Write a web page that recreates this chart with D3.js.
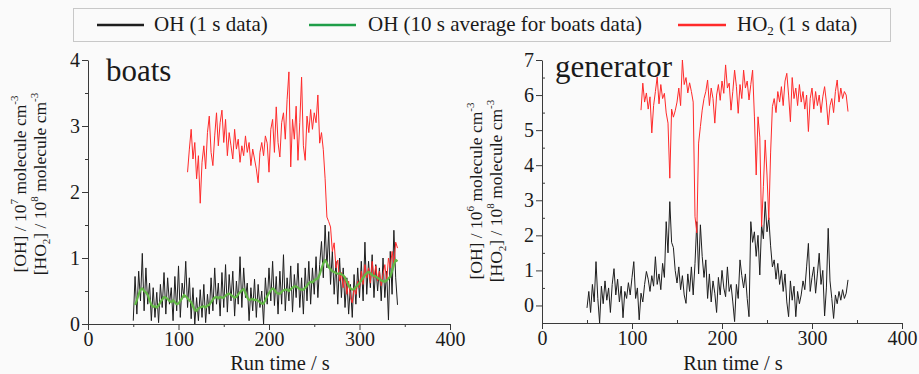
<!DOCTYPE html>
<html><head><meta charset="utf-8">
<script src="https://cdn.jsdelivr.net/npm/d3@7"></script>
<style>
body{margin:0;background:#fafafa;}
svg{display:block;font-family:"Liberation Serif","Times New Roman",serif;}
svg text{font-family:"Liberation Serif","Times New Roman",serif;}
</style></head><body>
<svg id="chart" width="919" height="374"></svg>
<script>
// ---------- data (time step 2 s) ----------
const timeStep = 2;
const xTicks = [0, 100, 200, 300, 400];
const xMinorTicks = [50, 150, 250, 350];
const boatsYTicks = [0, 1, 2, 3, 4];
const genYTicks = [0, 1, 2, 3, 4, 5, 6, 7];
const legendLabels = ["OH (1 s data)", "OH (10 s average for boats data)", "HO2 (1 s data)"];
const panelTitles = ["boats", "generator"];

const boatsOHStart = 50;
const boatsOH = [0.05,0.72,0.15,0.80,0.35,1.07,0.20,0.85,0.30,0.62,0.05,0.55,0.10,0.48,0.02,0.60,0.25,0.78,0.15,0.70,
0.30,0.55,0.05,0.72,0.20,0.88,0.10,0.62,0.40,0.95,0.25,0.70,0.08,0.55,0.00,0.40,0.05,0.52,0.10,0.60,
0.02,0.45,0.15,0.70,0.20,0.85,0.30,0.62,0.12,0.78,0.25,0.90,0.18,0.75,0.35,0.80,0.12,0.65,0.30,1.02,
0.25,0.85,0.40,0.62,0.05,0.55,0.20,0.68,0.10,0.60,0.25,0.50,0.00,0.70,0.30,0.85,0.35,0.95,0.28,0.72,
0.15,0.80,0.30,1.05,0.20,0.70,0.35,0.88,0.18,0.75,0.40,0.92,0.25,0.70,0.15,0.85,0.35,0.95,0.30,0.85,
0.45,1.02,0.40,0.90,1.25,0.70,1.50,0.85,1.40,0.60,1.10,0.45,0.95,0.30,1.00,0.40,0.85,0.25,0.70,0.15,
0.60,0.10,0.75,0.30,0.85,0.40,0.95,0.35,1.24,0.45,0.95,0.55,1.05,0.40,0.90,0.50,0.85,0.35,1.00,0.40,
0.80,0.06,1.10,0.45,1.42,0.70,0.29];

const boatsOHAvgStart = 52;
const boatsOHAvg = [0.29,0.36,0.45,0.52,0.54,0.50,0.48,0.44,0.36,0.29,0.26,0.27,0.25,0.28,0.33,0.37,0.41,0.40,0.38,0.35,
0.33,0.36,0.33,0.30,0.31,0.35,0.39,0.44,0.42,0.39,0.36,0.33,0.27,0.21,0.20,0.24,0.25,0.26,0.27,0.25,
0.28,0.29,0.33,0.37,0.40,0.41,0.39,0.41,0.40,0.40,0.43,0.45,0.46,0.44,0.42,0.40,0.41,0.45,0.48,0.51,
0.53,0.47,0.40,0.36,0.37,0.38,0.36,0.37,0.35,0.33,0.31,0.31,0.36,0.42,0.47,0.51,0.54,0.52,0.48,0.46,
0.46,0.49,0.51,0.52,0.52,0.50,0.53,0.55,0.57,0.57,0.55,0.53,0.52,0.52,0.55,0.58,0.62,0.64,0.63,0.66,
0.68,0.69,0.75,0.84,0.92,0.97,0.92,0.86,0.83,0.80,0.79,0.77,0.76,0.77,0.75,0.74,0.70,0.64,0.58,0.54,
0.52,0.53,0.56,0.59,0.62,0.66,0.70,0.74,0.77,0.79,0.77,0.74,0.73,0.72,0.70,0.68,0.66,0.65,0.64,0.66,
0.69,0.72,0.80,0.90,0.97,0.95];

const boatsHO2Start = 110;
const boatsHO2 = [2.30,2.65,2.95,2.50,2.75,2.20,2.55,1.83,2.45,2.70,2.35,2.90,3.15,2.60,2.40,2.85,3.20,2.70,3.05,3.24,
2.75,3.10,2.55,2.90,2.70,2.50,2.95,2.65,2.80,2.45,2.70,2.55,2.85,2.60,2.75,2.40,2.65,2.50,2.35,2.14,
2.60,2.75,2.55,2.85,2.74,2.30,2.95,3.10,2.60,3.29,2.75,2.53,3.05,3.20,2.80,3.40,3.82,2.38,3.10,2.80,
3.30,2.48,3.05,3.74,2.70,2.48,3.15,2.90,3.25,2.95,3.20,3.05,3.47,2.74,2.90,2.64,2.20,1.62,1.55,1.47,
1.10,1.23,0.85,0.97,0.65,0.78,0.55,0.72,0.45,0.65,0.40,0.32,0.55,0.45,0.65,0.55,0.80,0.60,0.90,0.70,
0.85,0.62,0.95,0.70,0.88,0.65,0.80,0.58,0.75,0.90,0.65,1.00,0.85,1.10,0.90,1.24,1.15];

const genOHStart = 50;
const genOH = [-0.07,0.40,-0.20,0.60,0.10,1.25,0.20,-0.50,0.55,0.05,0.70,0.15,0.50,-0.20,0.60,1.05,0.30,0.75,0.10,0.55,
-0.35,0.40,0.20,0.65,0.30,0.80,1.25,0.20,0.50,-0.41,0.35,0.10,0.60,0.97,0.75,0.40,0.85,0.55,1.39,0.60,
0.90,0.45,1.20,0.80,2.39,1.50,2.96,1.80,1.65,1.00,0.64,1.10,0.45,0.85,0.30,0.06,0.90,0.40,1.10,0.30,
1.20,2.39,0.90,2.30,1.40,0.80,1.30,0.20,0.90,0.10,0.70,0.35,-0.20,0.80,0.30,1.00,0.50,0.25,1.10,0.40,
0.60,0.10,-0.46,0.60,0.20,1.30,0.85,0.50,0.90,0.20,-0.32,2.39,1.80,2.10,1.40,2.00,0.87,2.30,1.90,2.96,
2.10,2.50,1.70,1.10,1.30,0.75,1.20,0.60,1.00,0.40,0.90,0.10,-0.32,0.70,0.15,0.55,-0.32,0.40,0.05,0.30,
0.70,0.45,1.10,1.77,0.40,0.80,1.10,0.35,0.90,1.49,0.60,1.00,-0.30,0.50,2.20,0.70,0.20,-0.37,0.30,0.05,
0.40,0.15,0.45,0.20,0.35,0.73];

const genHO2Start = 110;
const genHO2 = [5.57,6.34,5.80,6.06,5.60,5.95,4.92,5.70,6.10,6.52,5.75,6.30,5.90,6.05,5.49,5.20,3.63,5.60,5.37,5.55,
5.80,6.20,5.70,7.00,6.30,6.50,6.06,6.35,6.10,5.80,2.53,2.07,4.63,5.10,5.57,5.90,6.10,6.43,5.70,6.20,
5.90,5.20,6.00,6.30,5.85,6.40,6.05,6.86,6.20,6.34,5.57,6.10,6.71,6.25,5.48,6.30,5.90,6.71,6.20,6.40,
5.86,6.30,6.71,5.40,3.72,5.38,4.80,2.25,3.40,4.72,3.72,2.44,4.35,5.67,5.90,5.50,6.10,5.80,6.24,5.70,
6.40,6.62,6.00,5.24,6.50,5.90,6.20,5.70,6.30,5.80,6.10,5.60,6.00,4.96,5.90,6.20,5.60,6.10,5.70,6.00,
5.50,5.95,6.24,5.80,5.15,5.70,5.90,5.50,6.10,6.43,5.80,6.20,5.90,6.10,6.00,5.53];

// ---------- styles ----------
const C_OH = "#1e1e1e", C_AVG = "#62b846", C_HO2 = "#ff2a2a";
const C_AVG_LEG = "#1f9e48";
const AXIS = "#3a3a3a", TXT = "#1a1a1a";

const svg = d3.select("#chart");
const series = (arr, start) => arr.map((v, i) => ({t: start + i * timeStep, v}));

function panel(opts) {
  const g = svg.append("g");
  const x = d3.scaleLinear().domain([0, 400]).range(opts.xr);
  const y = d3.scaleLinear().domain(opts.yd).range(opts.yr);
  const line = d3.line().x(d => x(d.t)).y(d => y(d.v));

  opts.lines.forEach(L => {
    g.append("path").datum(L.data).attr("fill", "none").attr("stroke", L.color)
      .attr("stroke-width", L.w).attr("stroke-linejoin", "round").attr("d", line);
  });

  const xa = g.append("g").attr("transform", `translate(0,${opts.yr[0]})`)
    .call(d3.axisBottom(x).tickValues(xTicks).tickSize(6).tickSizeOuter(0).tickPadding(2).tickFormat(d3.format("d")));
  const xm = g.append("g").attr("transform", `translate(0,${opts.yr[0]})`)
    .call(d3.axisBottom(x).tickValues(xMinorTicks).tickSize(opts.minorIn ? -3 : 3).tickFormat(""));
  xm.select(".domain").remove();
  const ya = g.append("g").attr("transform", `translate(${opts.xr[0]},0)`)
    .call(d3.axisLeft(y).tickValues(opts.yTicks).tickSize(6).tickSizeOuter(0).tickPadding(2).tickFormat(d3.format("d")));
  const ym = g.append("g").attr("transform", `translate(${opts.xr[0]},0)`)
    .call(d3.axisLeft(y).tickValues(opts.yMinor).tickSize(opts.minorIn ? -3 : 3).tickFormat(""));
  ym.select(".domain").remove();

  [xa, xm, ya, ym].forEach(a => {
    a.attr("font-family", null).attr("font-size", 20);
    a.selectAll("path,line").attr("stroke", AXIS).attr("stroke-width", 1);
    a.selectAll("text").attr("fill", TXT);
  });
  xa.selectAll("text").attr("dy", "0.7em");

  g.append("text").attr("x", opts.titleX).attr("y", opts.titleY).attr("font-size", 31)
    .attr("fill", TXT).text(opts.title);
  g.append("text").attr("x", (opts.xr[0] + opts.xr[1]) / 2 + 11).attr("y", 369.5)
    .attr("text-anchor", "middle").attr("font-size", 20.5).attr("fill", TXT).text("Run time / s");

  const lab = (bx, cy, parts) => {
    const t = g.append("text").attr("transform", `translate(${bx},${cy}) rotate(-90)`)
      .attr("text-anchor", "middle").attr("font-size", 17.5).attr("fill", TXT);
    parts.forEach(p => {
      const s = t.append("tspan").text(p[0]);
      if (p[1] === "sup") s.attr("font-size", 11).attr("dy", -8);
      else if (p[1] === "sub") s.attr("font-size", 11).attr("dy", 4);
      else if (p[1] === "back") s.attr("dy", p[2]);
    });
  };
  lab(opts.labX[0], opts.labY, [["[OH] / 10"], ["" + opts.ohExp, "sup"], [" molecule cm", "back", 8], ["-3", "sup"]]);
  lab(opts.labX[1], opts.labY, [["[HO"], ["2", "sub"], ["] / 10", "back", -4], ["8", "sup"], [" molecule cm", "back", 8], ["-3", "sup"]]);
}

panel({
  xr: [88, 450], yd: [0, 4], yr: [324, 60], yTicks: boatsYTicks, yMinor: [0.5, 1.5, 2.5, 3.5],
  minorIn: false, title: panelTitles[0], titleX: 106, titleY: 81, ohExp: 7,
  labX: [26, 46], labY: 184,
  lines: [
    {data: series(boatsOH, boatsOHStart), color: C_OH, w: 1},
    {data: series(boatsHO2, boatsHO2Start), color: C_HO2, w: 1},
    {data: series(boatsOHAvg, boatsOHAvgStart), color: C_AVG, w: 2.2}
  ]
});
panel({
  xr: [542, 902], yd: [-0.5, 7], yr: [323, 60], yTicks: genYTicks, yMinor: [0.5, 1.5, 2.5, 3.5, 4.5, 5.5, 6.5],
  minorIn: true, title: panelTitles[1], titleX: 555, titleY: 77, ohExp: 6,
  labX: [482, 502], labY: 191,
  lines: [
    {data: series(genOH, genOHStart), color: C_OH, w: 1},
    {data: series(genHO2, genHO2Start), color: C_HO2, w: 1}
  ]
});

// ---------- legend ----------
const leg = svg.append("g");
leg.append("rect").attr("x", 73.5).attr("y", 8.5).attr("width", 817).attr("height", 33)
  .attr("fill", "none").attr("stroke", "#c8c8c8");
const items = [
  {x1: 97, x2: 144, tx: 154, color: C_OH, label: legendLabels[0]},
  {x1: 309, x2: 356, tx: 368, color: C_AVG_LEG, label: legendLabels[1]},
  {x1: 678, x2: 726, tx: 737, color: C_HO2, label: legendLabels[2]}
];
items.forEach((it, i) => {
  leg.append("line").attr("x1", it.x1).attr("x2", it.x2).attr("y1", 25).attr("y2", 25)
    .attr("stroke", it.color).attr("stroke-width", 2.5);
  const t = leg.append("text").attr("x", it.tx).attr("y", 31).attr("font-size", 21).attr("fill", TXT);
  if (i === 2) {
    t.append("tspan").text("HO");
    t.append("tspan").text("2").attr("font-size", 13).attr("dy", 4);
    t.append("tspan").text(" (1 s data)").attr("dy", -4);
  } else t.text(it.label);
});
</script>
</body></html>
